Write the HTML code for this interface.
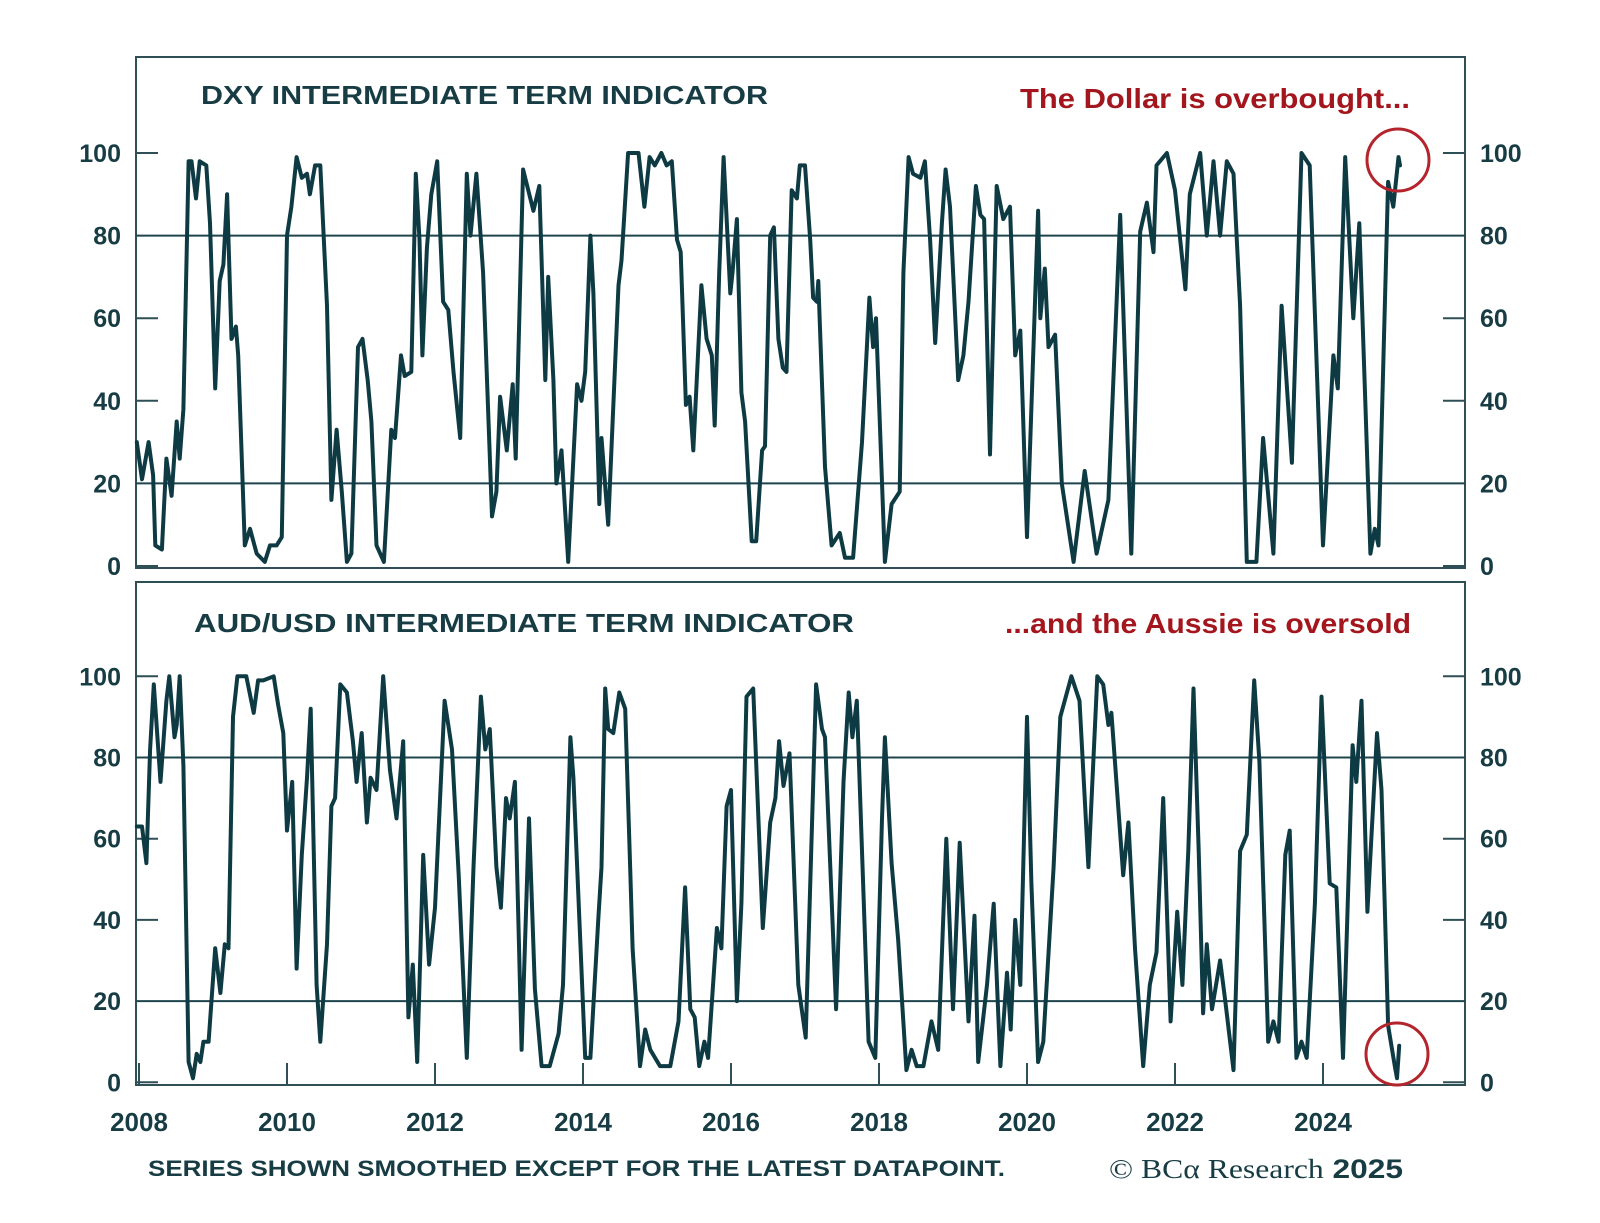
<!DOCTYPE html>
<html><head><meta charset="utf-8">
<style>
html,body{margin:0;padding:0;background:#fff;}
svg{display:block;}
text{font-family:"Liberation Sans",sans-serif;fill:#173c44;}
</style></head>
<body>
<svg id="chart" width="1600" height="1223" viewBox="0 0 1600 1223" xmlns="http://www.w3.org/2000/svg">
<g id="top-panel"></g>
<g id="bot-panel"></g>
<text x="201" y="104" font-size="26" font-weight="bold" textLength="567" lengthAdjust="spacingAndGlyphs">DXY INTERMEDIATE TERM INDICATOR</text>
<text x="1020" y="108" font-size="28" font-weight="bold" style="fill:#a3161d" textLength="390" lengthAdjust="spacingAndGlyphs">The Dollar is overbought...</text>
<text x="194" y="632" font-size="26" font-weight="bold" textLength="660" lengthAdjust="spacingAndGlyphs">AUD/USD INTERMEDIATE TERM INDICATOR</text>
<text x="1005" y="633" font-size="28" font-weight="bold" style="fill:#a3161d" textLength="406" lengthAdjust="spacingAndGlyphs">...and the Aussie is oversold</text>
<text x="148" y="1176" font-size="22" font-weight="bold" textLength="857" lengthAdjust="spacingAndGlyphs">SERIES SHOWN SMOOTHED EXCEPT FOR THE LATEST DATAPOINT.</text>
<text x="1109" y="1178" font-size="27" textLength="294" lengthAdjust="spacingAndGlyphs"><tspan style="font-family:'Liberation Serif',serif">© BCα Research</tspan><tspan font-weight="bold"> 2025</tspan></text>
</svg>
<script>
const dxyDates=[2007.97,2008.04,2008.13,2008.19,2008.22,2008.31,2008.37,2008.44,2008.51,2008.55,2008.60,2008.67,2008.71,2008.77,2008.82,2008.91,2008.96,2009.03,2009.09,2009.14,2009.19,2009.25,2009.31,2009.34,2009.43,2009.50,2009.59,2009.70,2009.77,2009.86,2009.93,2010.00,2010.06,2010.13,2010.20,2010.27,2010.31,2010.38,2010.45,2010.54,2010.60,2010.67,2010.74,2010.81,2010.87,2010.96,2011.02,2011.09,2011.14,2011.21,2011.31,2011.41,2011.46,2011.54,2011.59,2011.68,2011.74,2011.79,2011.83,2011.89,2011.95,2012.03,2012.11,2012.18,2012.25,2012.34,2012.43,2012.48,2012.56,2012.65,2012.77,2012.83,2012.88,2012.97,2013.05,2013.09,2013.19,2013.33,2013.41,2013.49,2013.53,2013.60,2013.64,2013.71,2013.80,2013.92,2013.98,2014.03,2014.10,2014.14,2014.22,2014.25,2014.34,2014.48,2014.52,2014.61,2014.75,2014.83,2014.90,2014.97,2015.06,2015.13,2015.20,2015.27,2015.32,2015.39,2015.44,2015.49,2015.60,2015.67,2015.74,2015.78,2015.84,2015.90,2015.99,2016.02,2016.08,2016.14,2016.19,2016.28,2016.34,2016.42,2016.46,2016.53,2016.58,2016.64,2016.70,2016.75,2016.82,2016.89,2016.93,2017.00,2017.07,2017.11,2017.16,2017.18,2017.27,2017.36,2017.47,2017.54,2017.65,2017.77,2017.87,2017.92,2017.96,2018.08,2018.17,2018.28,2018.33,2018.40,2018.46,2018.56,2018.62,2018.69,2018.76,2018.85,2018.90,2018.96,2019.07,2019.14,2019.21,2019.31,2019.37,2019.42,2019.50,2019.59,2019.68,2019.77,2019.84,2019.91,2020.00,2020.15,2020.18,2020.24,2020.29,2020.38,2020.47,2020.63,2020.78,2020.94,2021.10,2021.26,2021.41,2021.53,2021.62,2021.71,2021.75,2021.89,2022.00,2022.14,2022.20,2022.34,2022.43,2022.52,2022.61,2022.70,2022.79,2022.88,2022.97,2023.10,2023.19,2023.33,2023.44,2023.58,2023.71,2023.82,2024.00,2024.14,2024.20,2024.30,2024.41,2024.49,2024.64,2024.70,2024.75,2024.88,2024.95,2025.02,2025.04];
const dxyValues=[30,21,30,22,5,4,26,17,35,26,38,98,98,89,98,97,83,43,69,73,90,55,58,51,5,9,3,1,5,5,7,80,87,99,94,95,90,97,97,63,16,33,18,1,3,53,55,45,35,5,1,33,31,51,46,47,95,79,51,77,90,98,64,62,47,31,95,80,95,71,12,18,41,28,44,26,96,86,92,45,70,45,20,28,1,44,40,47,80,66,15,31,10,68,74,100,100,87,99,97,100,97,98,79,76,39,41,28,68,55,51,34,71,99,66,71,84,42,35,6,6,28,29,80,82,55,48,47,91,89,97,97,79,65,64,69,24,5,8,2,2,30,65,53,60,1,15,18,71,99,95,94,98,79,54,83,96,87,45,51,64,92,85,84,27,92,84,87,51,57,7,86,60,72,53,56,20,1,23,3,16,85,3,81,88,76,97,100,91,67,90,100,80,98,80,98,95,63,1,1,31,3,63,25,100,97,5,51,43,99,60,83,3,9,5,93,87,99,97];
const audDates=[2007.97,2008.04,2008.10,2008.15,2008.20,2008.29,2008.37,2008.41,2008.48,2008.51,2008.55,2008.60,2008.67,2008.73,2008.78,2008.83,2008.87,2008.94,2009.03,2009.10,2009.16,2009.21,2009.27,2009.33,2009.45,2009.55,2009.61,2009.68,2009.82,2009.88,2009.95,2010.00,2010.07,2010.13,2010.20,2010.27,2010.32,2010.40,2010.45,2010.54,2010.60,2010.65,2010.72,2010.81,2010.89,2010.94,2011.01,2011.08,2011.13,2011.21,2011.30,2011.39,2011.48,2011.57,2011.64,2011.70,2011.76,2011.84,2011.92,2012.00,2012.13,2012.23,2012.32,2012.43,2012.52,2012.62,2012.68,2012.74,2012.83,2012.89,2012.96,2013.01,2013.08,2013.17,2013.27,2013.35,2013.44,2013.55,2013.67,2013.73,2013.83,2013.87,2014.03,2014.10,2014.21,2014.25,2014.30,2014.34,2014.41,2014.49,2014.57,2014.64,2014.67,2014.77,2014.84,2014.91,2015.04,2015.18,2015.29,2015.38,2015.45,2015.51,2015.57,2015.64,2015.69,2015.81,2015.87,2015.94,2016.00,2016.08,2016.14,2016.21,2016.30,2016.43,2016.53,2016.60,2016.65,2016.71,2016.79,2016.91,2017.01,2017.09,2017.15,2017.23,2017.27,2017.42,2017.52,2017.59,2017.64,2017.70,2017.86,2017.95,2018.04,2018.08,2018.17,2018.26,2018.37,2018.44,2018.51,2018.60,2018.71,2018.80,2018.91,2019.00,2019.09,2019.21,2019.29,2019.34,2019.46,2019.55,2019.64,2019.73,2019.78,2019.84,2019.91,2020.00,2020.06,2020.15,2020.22,2020.36,2020.45,2020.60,2020.71,2020.83,2020.95,2021.03,2021.10,2021.14,2021.30,2021.37,2021.46,2021.57,2021.66,2021.75,2021.84,2021.94,2022.03,2022.10,2022.18,2022.25,2022.32,2022.38,2022.43,2022.50,2022.61,2022.68,2022.79,2022.88,2022.97,2023.07,2023.14,2023.26,2023.33,2023.40,2023.49,2023.55,2023.64,2023.71,2023.78,2023.89,2023.98,2024.09,2024.18,2024.27,2024.40,2024.45,2024.52,2024.60,2024.73,2024.79,2024.88,2024.97,2025.00,2025.03];
const audValues=[63,63,54,82,98,74,94,100,85,88,100,78,5,1,7,5,10,10,33,22,34,33,90,100,100,91,99,99,100,93,86,62,74,28,56,75,92,24,10,34,68,70,98,96,84,74,86,64,75,72,100,77,65,84,16,29,5,56,29,43,94,82,51,6,53,95,82,87,53,43,70,65,74,8,65,23,4,4,12,24,85,75,6,6,41,53,97,87,86,96,92,51,33,4,13,8,4,4,15,48,18,16,4,10,6,38,33,68,72,20,44,95,97,38,64,70,84,73,81,24,11,61,98,87,85,18,74,96,85,94,10,6,65,85,54,35,3,8,4,4,15,8,60,18,59,15,41,5,24,44,4,27,13,40,24,90,49,5,10,53,90,100,94,53,100,98,88,91,51,64,33,4,24,32,70,15,42,24,57,97,57,17,34,18,30,20,3,57,61,99,79,10,15,10,56,62,6,10,6,44,95,49,48,6,83,74,94,42,86,72,14,4,1,9];
const yTicks=[0,20,40,60,80,100];
const gridVals=[20,80];
const yearTicks=[2008,2010,2012,2014,2016,2018,2020,2022,2024];

const NS='http://www.w3.org/2000/svg';
const X0=136,X1=1465;
function xs(yr){return 139+(yr-2008)*74;}
const panels=[
 {g:document.getElementById('top-panel'),top:57,bot:568,y0:566,k:4.13,dates:dxyDates,vals:dxyValues,circ:[1398,160],id:'dxy'},
 {g:document.getElementById('bot-panel'),top:582,bot:1085,y0:1082.3,k:4.06,dates:audDates,vals:audValues,circ:[1397,1054],id:'aud'}
];
function mk(tag,attrs,parent){const e=document.createElementNS(NS,tag);for(const a in attrs)e.setAttribute(a,attrs[a]);parent.appendChild(e);return e;}
panels.forEach((p,pi)=>{
 const ys=v=>p.y0-v*p.k;
 const frame=mk('rect',{x:X0,y:p.top,width:X1-X0,height:p.bot-p.top,fill:'none',stroke:'#2e4f56','stroke-width':2},p.g);
 
 
 gridVals.forEach(v=>{
  const l=mk('line',{x1:X0,x2:X1,y1:ys(v),y2:ys(v),stroke:'#1f454c','stroke-width':2},p.g);
  
  
 });
 yTicks.forEach(v=>{
  if(v!==20&&v!==80){
   const a=mk('line',{x1:X0,x2:X0+22,y1:ys(v),y2:ys(v),stroke:'#2e4f56','stroke-width':2},p.g);
   
   
   const b=mk('line',{x1:X1-22,x2:X1,y1:ys(v),y2:ys(v),stroke:'#2e4f56','stroke-width':2},p.g);
   
   
  }
  const t1=mk('text',{x:121,y:ys(v)+9,'text-anchor':'end','font-size':25,'font-weight':'bold'},p.g);
  t1.textContent=v;
  
  
  const t2=mk('text',{x:1480,y:ys(v)+9,'font-size':25,'font-weight':'bold'},p.g);
  t2.textContent=v;
  
  
 });
 if(pi===1){
  yearTicks.forEach(yr=>{
   const t=mk('line',{x1:xs(yr),x2:xs(yr),y1:p.bot,y2:p.bot-22,stroke:'#2e4f56','stroke-width':2},p.g);
   
   
   const lb=mk('text',{x:xs(yr),y:1131,'text-anchor':'middle','font-size':26,'font-weight':'bold'},p.g);
   lb.textContent=yr;
   
   
  });
 }
 let d='';
 p.dates.forEach((dt,i)=>{d+=(i?'L':'M')+xs(dt).toFixed(1)+' '+Math.max(p.top+2,ys(p.vals[i])).toFixed(1);});
 const path=mk('path',{d:d,fill:'none',stroke:'#0e3b43','stroke-width':4,'stroke-linejoin':'round','stroke-linecap':'round'},p.g);
 
 
 const c=mk('circle',{cx:p.circ[0],cy:p.circ[1],r:31,fill:'none',stroke:'#b3242c','stroke-width':3},p.g);
 
 
});
</script>
</body></html>
